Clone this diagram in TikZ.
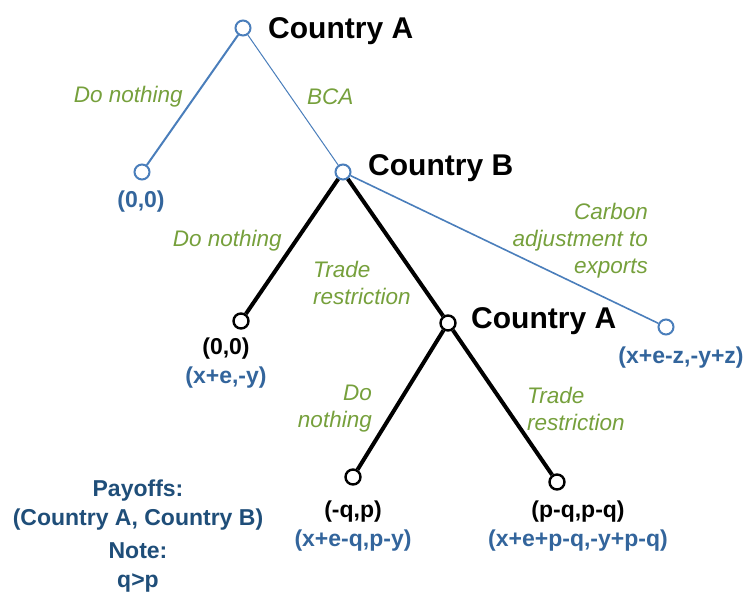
\documentclass[tikz,border=0pt]{standalone}
\usepackage{fontspec}
\setmainfont{Liberation Sans}
\definecolor{lineblue}{HTML}{4A7EBB}
\definecolor{payblue}{HTML}{33659C}
\definecolor{noteblue}{HTML}{1F4E79}
\definecolor{actgreen}{HTML}{76A03C}
\newcommand{\cntfont}{\fontsize{30}{34}\selectfont\bfseries}
\newcommand{\actfont}{\fontsize{22.5}{27}\selectfont\itshape}
\newcommand{\payfont}{\fontsize{23}{29}\selectfont\bfseries}

\begin{document}
\begin{tikzpicture}[x=1pt,y=-1pt,
        bnode/.style={circle,draw=lineblue,line width=2pt,fill=white,minimum size=15pt,inner sep=0pt},
        knode/.style={circle,draw=black,line width=2.4pt,fill=white,minimum size=15pt,inner sep=0pt},
        player/.style={inner sep=0pt,font=\cntfont},
        action/.style={inner sep=0pt,text=actgreen,font=\actfont},
        payoff/.style={inner sep=0pt,align=center,font=\payfont},
        kedge/.style={black,line width=4pt}]
        \useasboundingbox (0,0) rectangle (750,594);
        % decision nodes and leaves
        \node [bnode] (a1) at (243,28) {};
        \node [bnode] (l0) at (142,172) {};
        \node [bnode] (b1) at (343,172) {};
        \node [knode] (l1) at (241,321) {};
        \node [bnode] (l2) at (666,327) {};
        \node [knode] (a2) at (448,323) {};
        \node [knode] (l3) at (353,477) {};
        \node [knode] (l4) at (557,482) {};
        % branches
        \draw [lineblue,line width=2pt] (a1) -- (l0);
        \draw [lineblue,line width=1pt] (a1) -- (b1);
        \draw [lineblue,line width=1.6pt] (b1) -- (l2);
        \draw [kedge] (b1) -- (l1);
        \draw [kedge] (b1) -- (a2);
        \draw [kedge] (a2) -- (l3);
        \draw [kedge] (a2) -- (l4);
        % players
        \node [player,anchor=west] (pa1) at (268,31) {Country A};
        \node [player,anchor=west] (pb1) at (368,168) {Country B};
        \node [player,anchor=west] (pa2) at (471,321) {Country A};
        % actions
        \node [action,anchor=east] (act1) at (183,97) {Do nothing};
        \node [action,anchor=west] (act2) at (307,97) {BCA};
        \node [action,anchor=east] (act3) at (282,241) {Do nothing};
        \node [action,anchor=west,align=left] (act4) at (313,283) {Trade\\restriction};
        \node [action,anchor=east,align=right] (act5) at (648,241) {Carbon\\adjustment to\\exports};
        \node [action,anchor=east,align=right] (act6) at (372,409) {Do\\nothing};
        \node [action,anchor=west,align=left] (act7) at (527,409) {Trade\\restriction};
        % payoffs
        \node [payoff,text=payblue] (pay0) at (141,202) {(0,0)};
        \node [payoff] (pay1) at (226,363) {(0,0)\\\textcolor{payblue}{(x+e,-y)}};
        \node [payoff,text=payblue] (pay2) at (681,358) {(x+e-z,-y+z)};
        \node [payoff] (pay3) at (353,526) {(-q,p)\\\textcolor{payblue}{(x+e-q,p-y)}};
        \node [payoff] (pay4) at (578,526) {(p-q,p-q)\\\textcolor{payblue}{(x+e+p-q,-y+p-q)}};
        % legend
        \node [payoff,text=noteblue] (legend) at (138,505) {Payoffs:\\(Country A, Country B)};
        \node [payoff,text=noteblue] (note) at (138,567) {Note:\\q>p};
\end{tikzpicture}
\end{document}
